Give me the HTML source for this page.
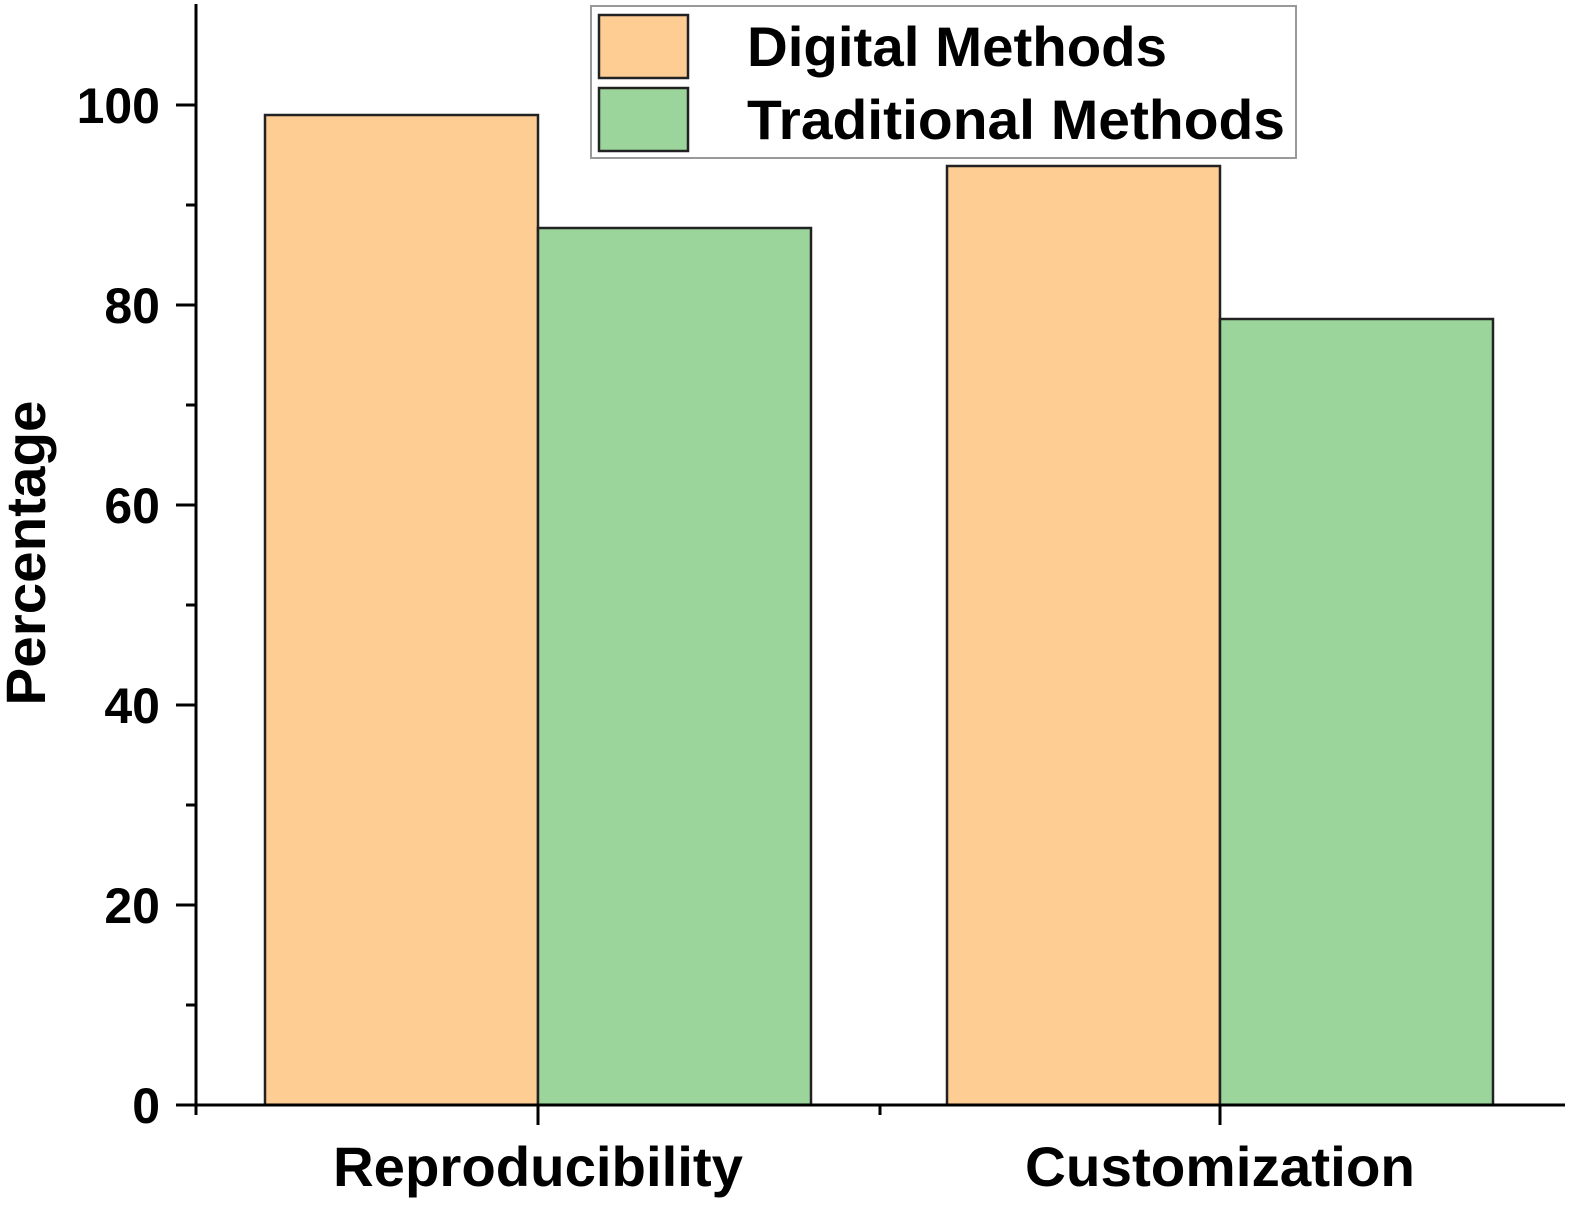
<!DOCTYPE html>
<html><head><meta charset="utf-8"><style>
html,body{margin:0;padding:0;background:#fff;}
svg{display:block;font-family:"Liberation Sans",Arial,sans-serif;font-weight:bold;}
</style></head><body>
<svg id="chart" width="1575" height="1207" viewBox="0 0 1575 1207" xmlns="http://www.w3.org/2000/svg">
<g id="bars"></g>
<g id="axes"></g>
<text transform="translate(45,553) rotate(-90)" text-anchor="middle" font-size="56" textLength="305" lengthAdjust="spacingAndGlyphs" fill="#000">Percentage</text>
<g>
<rect x="591" y="6" width="705" height="152" fill="#fff" stroke="#999" stroke-width="2"/>
<g>
<rect x="599" y="15" width="89" height="63" fill="#FECD94" stroke="#222" stroke-width="2.5"/>
<text x="747" y="66" font-size="56" textLength="420" lengthAdjust="spacingAndGlyphs">Digital Methods</text>
</g>
<g>
<rect x="599" y="88" width="89" height="63" fill="#9BD59B" stroke="#222" stroke-width="2.5"/>
<text x="747" y="139" font-size="56" textLength="538" lengthAdjust="spacingAndGlyphs">Traditional Methods</text>
</g>
</g>
</svg>
<script>
const categories = ["Reproducibility", "Customization"];
const digitalValues = [99, 93.9];
const traditionalValues = [87.7, 78.6];
const yTickLabels = ["0", "20", "40", "60", "80", "100"];
const yTickValues = [0, 20, 40, 60, 80, 100];
const yMinorValues = [10, 30, 50, 70, 90];

const NS = "http://www.w3.org/2000/svg";
const y0 = 1105, pxPerUnit = 10;
const yScale = v => y0 - v * pxPerUnit;
const catCenters = [538, 1220];
const xScale = i => catCenters[i];
const barW = 273;
const labelLens = [410, 390];

function mk(tag, attrs, parent) {
  const el = document.createElementNS(NS, tag);
  for (const k in attrs) el.setAttribute(k, attrs[k]);
  parent.appendChild(el);
  return el;
}
const barsG = document.getElementById("bars");
const axesG = document.getElementById("axes");

categories.forEach((c, i) => {
  const cx = xScale(i);
  const d = mk("rect", {x: cx - barW, y: yScale(digitalValues[i]), width: barW, height: y0 - yScale(digitalValues[i]), fill: "#FECD94", stroke: "#222", "stroke-width": 2.5}, barsG);
  
  
  const t = mk("rect", {x: cx, y: yScale(traditionalValues[i]), width: barW, height: y0 - yScale(traditionalValues[i]), fill: "#9BD59B", stroke: "#222", "stroke-width": 2.5}, barsG);
  
  
  const lbl = mk("text", {x: cx, y: 1186, "text-anchor": "middle", "font-size": 56, textLength: labelLens[i], lengthAdjust: "spacingAndGlyphs"}, axesG);
  lbl.textContent = c;
  
  
  const tk = mk("line", {x1: cx, x2: cx, y1: y0, y2: y0 + 20, stroke: "#000", "stroke-width": 3}, axesG);
  
  
});
const mid = mk("line", {x1: 880, x2: 880, y1: y0, y2: y0 + 10, stroke: "#000", "stroke-width": 3}, axesG);



const yAxis = mk("line", {x1: 196, x2: 196, y1: 4, y2: y0 + 10, stroke: "#000", "stroke-width": 3}, axesG);


const xAxis = mk("line", {x1: 176, x2: 1565, y1: y0, y2: y0, stroke: "#000", "stroke-width": 3}, axesG);



yTickValues.forEach((v, i) => {
  const tk = mk("line", {x1: 176, x2: 196, y1: yScale(v), y2: yScale(v), stroke: "#000", "stroke-width": 3}, axesG);
  
  
  const lb = mk("text", {x: 160, y: yScale(v) + 18, "text-anchor": "end", "font-size": 50}, axesG);
  lb.textContent = yTickLabels[i];
  
  
});
yMinorValues.forEach(v => {
  const tk = mk("line", {x1: 186, x2: 196, y1: yScale(v), y2: yScale(v), stroke: "#000", "stroke-width": 3}, axesG);
  
  
});
</script>
</body></html>
